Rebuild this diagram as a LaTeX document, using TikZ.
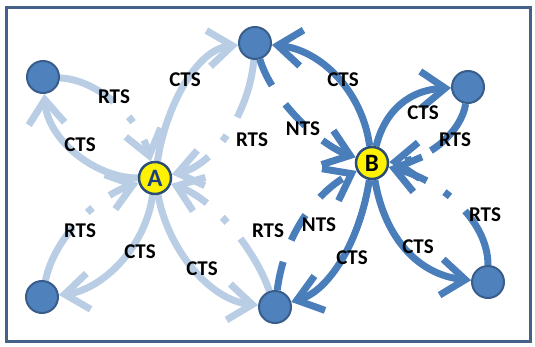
\documentclass[tikz,border=0pt]{standalone}
\usepackage{fontspec}
\setmainfont{Carlito}
\usetikzlibrary{arrows.meta,backgrounds}
\definecolor{nodeblue}{HTML}{4F81BD}
\definecolor{nodeedge}{HTML}{385D8A}
\definecolor{hubedge}{HTML}{2C4D75}
\definecolor{letterblue}{HTML}{1F3F7F}
\definecolor{paleblue}{HTML}{B9CDE5}
\definecolor{deepblue}{HTML}{4A7EBB}
\definecolor{framecol}{HTML}{44618A}
\begin{document}
\begin{tikzpicture}[x=1pt,y=-1pt,
  every node/.style={inner sep=0pt},
  station/.style={circle,minimum size=32pt,fill=nodeblue,draw=nodeedge,line width=2pt},
  hub/.style={circle,minimum size=32pt,fill=yellow,draw=hubedge,line width=2.5pt,font=\bfseries\fontsize{25}{25}\selectfont},
  tag/.style={font=\bfseries\fontsize{21}{21}\selectfont},
  link/.style={line width=7pt,-{Straight Barb[length=24pt,width=36pt]}},
  pale/.style={link,draw=paleblue},
  deep/.style={link,draw=deepblue},
  rts/.style={dash pattern=on 60pt off 21pt on 7pt off 21pt},
  nts/.style={dash pattern=on 29pt off 23pt},
]
\useasboundingbox (0,0) rectangle (535,347);

% stations
\node[station] (TL) at (43,77) {};
\node[station] (T)  at (255,43) {};
\node[station] (BL) at (42,297) {};
\node[station] (BM) at (275,307) {};
\node[station] (TR) at (468,87) {};
\node[station] (BR) at (488,282) {};
\node[hub,text=letterblue] (A) at (155,178) {A};
\node[hub,text=black] (B) at (372,163) {B};

% frame and links
\begin{scope}[on background layer]
\draw[framecol,line width=3pt] (6,8) rectangle (530,341);

\draw[pale,rts] (TL) .. controls (100,80) and (140,120) .. (A);
\draw[pale] (A) .. controls (95,178) and (48,140) .. (TL);
\draw[pale,rts] (BL) .. controls (55,235) and (100,195) .. (A);
\draw[pale] (A) .. controls (145,250) and (100,290) .. (BL);
\draw[pale,rts] (T) .. controls (250,110) and (215,165) .. (A);
\draw[pale] (A) .. controls (165,110) and (195,50) .. (T);
\draw[pale,rts] (BM) .. controls (255,250) and (215,200) .. (A);
\draw[pale] (A) .. controls (168,250) and (210,300) .. (BM);

\draw[deep] (B) .. controls (362,90) and (320,50) .. (T);
\draw[deep,nts] (T) .. controls (272,100) and (320,145) .. (B);
\draw[deep,nts] (BM) .. controls (285,230) and (320,190) .. (B);
\draw[deep] (B) .. controls (360,240) and (330,290) .. (BM);
\draw[deep] (B) .. controls (385,110) and (410,90) .. (TR);
\draw[deep,rts] (TR) .. controls (462,130) and (430,160) .. (B);
\draw[deep,rts] (BR) .. controls (488,220) and (440,180) .. (B);
\draw[deep] (B) .. controls (385,240) and (420,275) .. (BR);
\end{scope}

% labels
\node[tag] at (114,97) {RTS};
\node[tag] at (80,145) {CTS};
\node[tag] at (185,80) {CTS};
\node[tag] at (252,140) {RTS};
\node[tag] at (343,80) {CTS};
\node[tag] at (303,129) {NTS};
\node[tag] at (423,113) {CTS};
\node[tag] at (455,140) {RTS};
\node[tag] at (80,231) {RTS};
\node[tag] at (140,252) {CTS};
\node[tag] at (202,269) {CTS};
\node[tag] at (268,231) {RTS};
\node[tag] at (319,225) {NTS};
\node[tag] at (352,258) {CTS};
\node[tag] at (418,247) {CTS};
\node[tag] at (485,215) {RTS};
\end{tikzpicture}
\end{document}
